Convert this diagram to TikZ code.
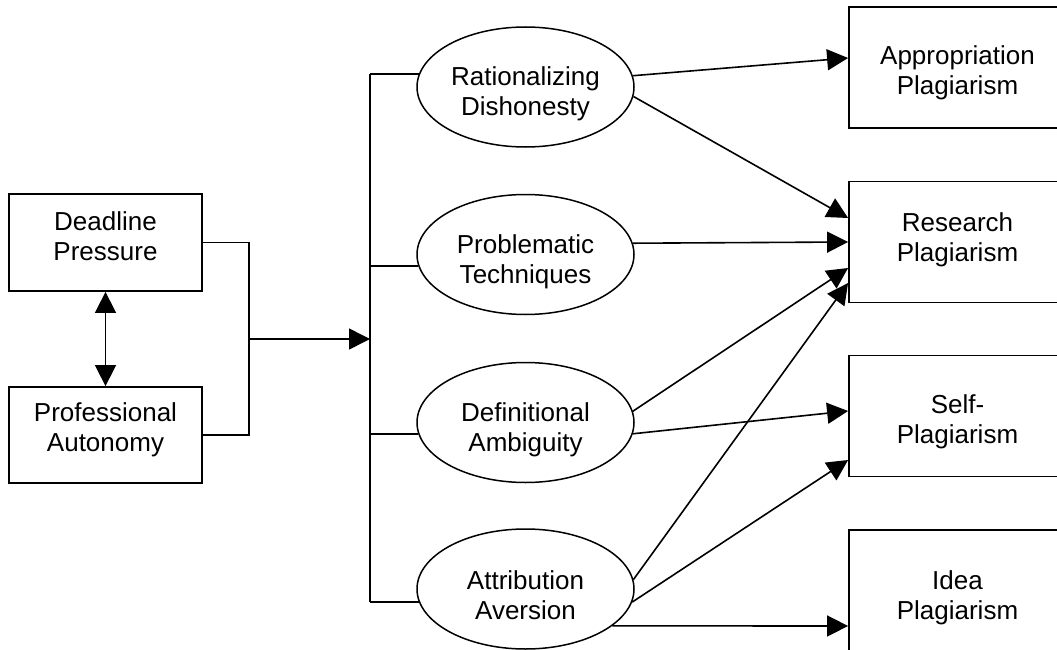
\documentclass[tikz,border=0pt]{standalone}
\usepackage{fontspec}
\setmainfont{Liberation Sans}
\usetikzlibrary{arrows.meta,shapes.geometric,calc}
\newcommand\twoline[3]{\raisebox{#1}[0pt][0pt]{\begin{tabular}[t]{@{}c@{}}#2\\#3\end{tabular}}}
\begin{document}
\begin{tikzpicture}[x=1pt,y=-1pt,
  every node/.style={font=\fontsize{26}{30}\selectfont, inner sep=0pt},
  box/.style={draw, line width=1.8pt, rectangle, minimum width=193pt, minimum height=97pt},
  rbox/.style={draw, line width=1.8pt, rectangle, minimum width=217pt, minimum height=121pt},
  oval/.style={draw, line width=1.5pt, ellipse, minimum width=217pt, minimum height=120pt},
  conn/.style={line width=1.8pt},
  arr/.style={line width=1.6pt, -{Triangle[length=21pt,width=21pt]}},
  darr/.style={line width=1.6pt, {Triangle[length=21pt,width=21pt]}-{Triangle[length=21pt,width=21pt]}}
]
\useasboundingbox (0,0) rectangle (1057,650);

% left boxes
\node[box] (dl) at (105.5,242.5) {\twoline{12.5pt}{Deadline}{Pressure}};
\node[box, minimum height=96pt] (pa) at (105.5,435) {\twoline{14pt}{Professional}{Autonomy}};

% ellipses
\node[oval] (rd) at (525.5,87) {\twoline{1.7pt}{Rationalizing}{Dishonesty}};
\node[oval] (pt) at (525.5,254.5) {\twoline{1.2pt}{Problematic}{Techniques}};
\node[oval] (da) at (525.5,422.5) {\twoline{1.2pt}{Definitional}{Ambiguity}};
\node[oval] (aa) at (525.5,589) {\twoline{-0.3pt}{Attribution}{Aversion}};

% right boxes
\node[rbox] (ap) at (957.5,67.5) {\twoline{3.2pt}{Appropriation}{Plagiarism}};
\node[rbox] (rp) at (957.5,242) {\twoline{10.2pt}{Research}{Plagiarism}};
\node[rbox] (sp) at (957.5,416) {\twoline{2.7pt}{Self-}{Plagiarism}};
\node[rbox, minimum height=123pt] (ip) at (957.5,591.5) {\twoline{2.2pt}{Idea}{Plagiarism}};

% coordinates
\coordinate (bx) at (249,339);
\coordinate (vmid) at (370,339);

% double arrow
\draw[darr] (dl.south) -- (pa.north);

% bracket
\draw[conn] (dl.east) -| (bx) |- (pa.east);
\draw[arr] (bx) -- (vmid);

% vertical line and ticks
\draw[conn] (rd.173.1 -| vmid) -- (aa.187.4 -| vmid);
\draw[conn] (rd.173.1 -| vmid) -- (rd.173.1);
\draw[conn] (pt.186.6 -| vmid) -- (pt.186.6);
\draw[conn] (da.186.1 -| vmid) -- (da.186.1);
\draw[conn] (aa.187.4 -| vmid) -- (aa.187.4);

% arrows to outcomes
\draw[arr] (rd.6.9) -- ($(ap.west)+(0,-9.5)$);
\draw[arr] (rd.-5.8) -- ($(rp.west)+(0,-24)$);
\draw[arr] (pt.6.6) -- (rp.west);
\draw[arr] (da.6.6) -- ($(rp.west)+(0,26)$);
\draw[arr] (da.-6.1) -- ($(sp.west)+(0,-5)$);
\draw[arr] (aa.5.8) -- ($(rp.west)+(0,41)$);
\draw[arr] (aa.-7.4) -- ($(sp.west)+(0,44)$);
\draw[arr] (aa.-23.6) -- ($(ip.west)+(0,34.5)$);
\end{tikzpicture}
\end{document}
